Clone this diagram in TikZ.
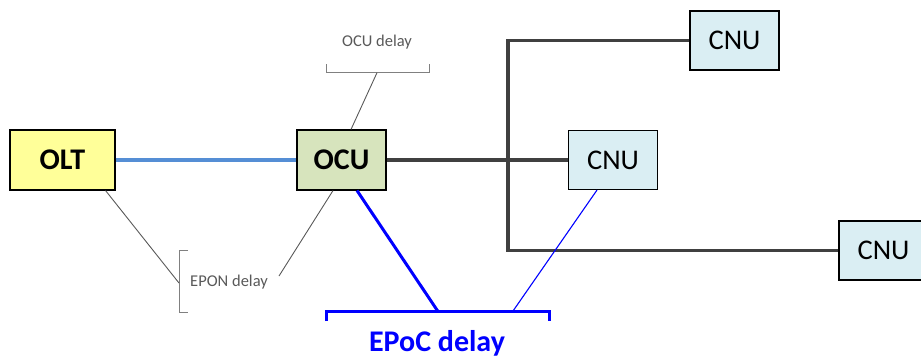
\documentclass[tikz,border=0pt]{standalone}
\usepackage{fontspec}
\setmainfont{Carlito}
\usetikzlibrary{positioning}
\definecolor{oltfill}{HTML}{FFFF99}
\definecolor{ocufill}{HTML}{D7E4BD}
\definecolor{cnufill}{HTML}{DAEEF3}
\definecolor{ponblue}{HTML}{558ED5}
\definecolor{coaxgray}{HTML}{404040}
\definecolor{notegray}{HTML}{595959}
\definecolor{epocblue}{HTML}{0000FF}
\tikzstyle{unit} = [rectangle, minimum width = 89pt, minimum height = 60pt, inner sep = 0pt, draw = black, line width = 1.1pt, text centered]
\tikzstyle{bigbold} = [font = \fontsize{30}{34}\selectfont\bfseries]
\tikzstyle{cnu} = [unit, fill = cnufill, minimum height = 59pt, font = \fontsize{28.5}{32}\selectfont]
\tikzstyle{coax} = [line width = 3.6pt, draw = coaxgray]
\tikzstyle{note} = [draw = notegray, line width = 0.9pt]
\tikzstyle{notetext} = [text = notegray, font = \fontsize{16.5}{19}\selectfont, inner sep = 0pt]

\begin{document}
\begin{tikzpicture}[x = 1pt, y = 1pt]
\useasboundingbox (0,0) rectangle (921,-357);

\node(OLT) [unit, bigbold, fill = oltfill, minimum width = 105pt] at (62.5,-160) {OLT};
\node(OCU) [unit, bigbold, fill = ocufill] at (341.5,-160) {OCU};
\node(CNUa) [cnu] at (734.5,-40.5) {CNU};
\node(CNUb) [cnu] at (613,-160) {CNU};
\node(CNUc) [cnu] at (883.5,-250.5) {CNU};

% fibre and coax
\draw [line width = 3.6pt, draw = ponblue] (OLT) -- (OCU);
\coordinate (tap) at (508,-160);
\draw [coax] (OCU) -- (CNUb);
\draw [coax, line join = miter] (CNUa.west) -| (tap) |- (CNUc.west);

% OCU delay
\node(ocudelay) [notetext] at (377,-42) {OCU delay};
\coordinate (ocubr) at (377,-72.7);
\draw [note, draw = gray] (326,-64) -- (326,-72.7) -- (429,-72.7) -- (429,-64);
\draw [note] (ocubr) -- ([xshift = 9.5pt]OCU.north);

% EPON delay
\node(epondelay) [notetext, anchor = west] at (190,-282) {EPON delay};
\coordinate (eponbr) at (179,-283);
\coordinate (eponend) at (279,-276);
\draw [note, draw = gray] (188,-250) -- (179,-250) -- (179,-312) -- (188,-312);
\draw [note] ([xshift = -10pt]OLT.south east) -- (eponbr);
\draw [note] ([xshift = -8.5pt]OCU.south) -- (eponend);

% EPoC delay
\node(epocdelay) [bigbold, text = epocblue] at (437,-343) {EPoC delay};
\coordinate (epocl) at (437.7,-311);
\coordinate (epocr) at (513,-311);
\draw [line width = 3pt, draw = epocblue] (326,-321) -- (326,-311) -- (549,-311) -- (549,-321);
\draw [line width = 3pt, draw = epocblue] ([xshift = 15.5pt]OCU.south) -- (epocl);
\draw [line width = 1.1pt, draw = epocblue] ([xshift = -16pt]CNUb.south) -- (epocr);

\end{tikzpicture}
\end{document}
